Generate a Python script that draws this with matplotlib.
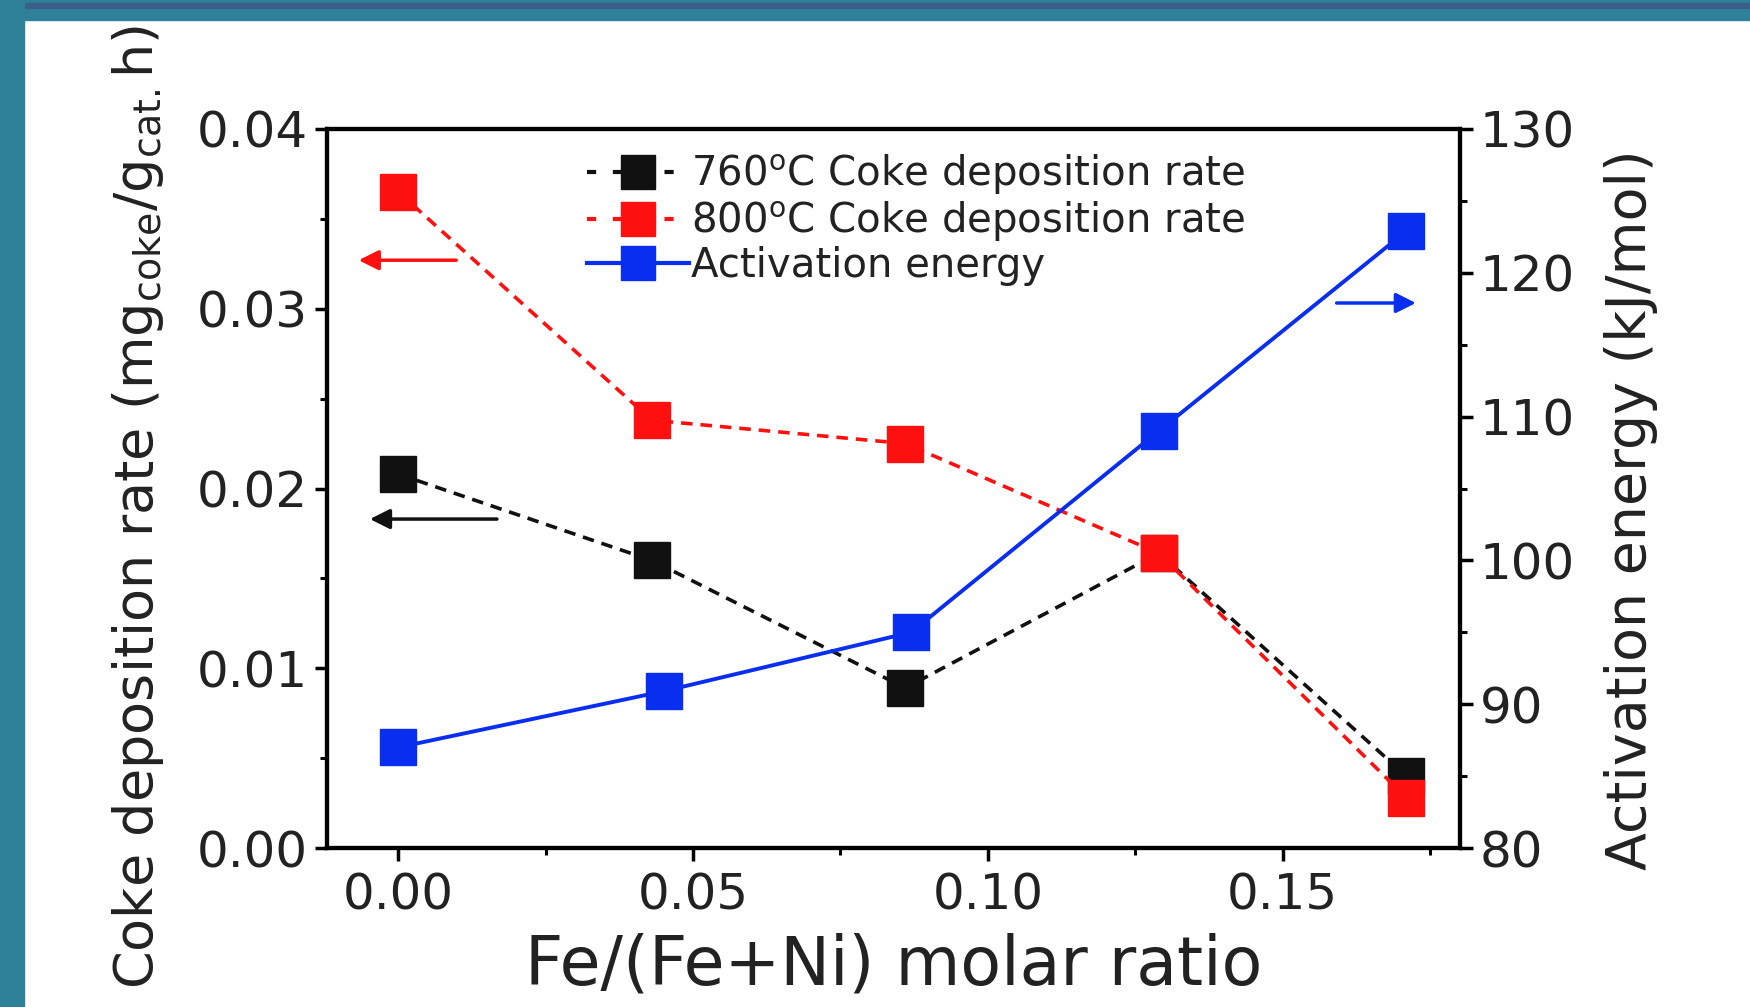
import matplotlib
matplotlib.use('Agg')
import matplotlib.pyplot as plt
import matplotlib.patches as patches
from matplotlib.lines import Line2D
from matplotlib.ticker import MultipleLocator

plt.rcParams['font.family'] = ['DejaVu Sans']
plt.rcParams['mathtext.fontset'] = 'dejavusans'

# data
ratio = [0.0, 0.043, 0.086, 0.129, 0.171]
ratio_ea = [0.0, 0.045, 0.087, 0.129, 0.171]
coke_760 = [0.0208, 0.0160, 0.0089, 0.0164, 0.0040]
coke_800 = [0.0365, 0.0238, 0.0225, 0.0164, 0.0028]
act_energy = [87.0, 90.9, 95.0, 109.0, 122.9]

x_ticks = [0.00, 0.05, 0.10, 0.15]
left_ticks = [0.00, 0.01, 0.02, 0.03, 0.04]
right_ticks = [80, 90, 100, 110, 120, 130]

labels = ['760$^{\\mathrm{o}}$C Coke deposition rate',
          '800$^{\\mathrm{o}}$C Coke deposition rate',
          'Activation energy']

black = '#111111'
red = '#ff1010'
blue = '#0a2ef0'
teal = '#2f8199'
band = '#3b5f8a'
text_c = '#222222'

fig = plt.figure(figsize=(17.5, 10.07), dpi=100)
fig.patch.set_facecolor('white')

# frame strips round the picture
fig.patches.append(patches.Rectangle((0, 1 - 20 / 1007), 1, 20 / 1007,
                                     transform=fig.transFigure, color=teal, zorder=0))
fig.patches.append(patches.Rectangle((0, 1 - 8 / 1007), 1, 5 / 1007,
                                     transform=fig.transFigure, color=band, zorder=0))
fig.patches.append(patches.Rectangle((0, 0), 24 / 1750, 1,
                                     transform=fig.transFigure, color=teal, zorder=0))

ax = fig.add_axes([327 / 1750, 1 - 848 / 1007, (1460 - 327) / 1750, (848 - 129) / 1007])
ax2 = ax.twinx()

ax.plot(ratio, coke_760, color=black, lw=2.6, dashes=(3.2, 2.2),
        marker='s', ms=26, mfc=black, mec=black)
ax.plot(ratio, coke_800, color=red, lw=2.6, dashes=(3.2, 2.2),
        marker='s', ms=26, mfc=red, mec=red)
ax2.plot(ratio_ea, act_energy, color=blue, lw=2.8,
         marker='s', ms=26, mfc=blue, mec=blue)

ax.set_xlim(-0.0121, 0.1801)
ax.set_ylim(0, 0.04)
ax2.set_ylim(80, 130)

ax.set_xticks(x_ticks)
ax.set_xticklabels(['%.2f' % v for v in x_ticks])
ax.set_yticks(left_ticks)
ax.set_yticklabels(['%.2f' % v for v in left_ticks])
ax2.set_yticks(right_ticks)
ax.xaxis.set_minor_locator(MultipleLocator(0.025))
ax.yaxis.set_minor_locator(MultipleLocator(0.005))
ax2.yaxis.set_minor_locator(MultipleLocator(5))

for a in (ax, ax2):
    for s in a.spines.values():
        s.set_linewidth(3)
    a.tick_params(which='major', direction='out', length=9, width=2.5,
                  labelsize=36, pad=5, labelcolor=text_c)
    a.tick_params(which='minor', direction='out', length=5, width=2.2)
ax.tick_params(axis='x', which='major', pad=8)
ax.tick_params(top=False, right=False, which='both')
ax2.tick_params(axis='y', which='both', left=False)

ax.set_xlabel('Fe/(Fe+Ni) molar ratio', fontsize=48, color=text_c)
ax.xaxis.set_label_coords(0.5, -0.118)
ax.set_ylabel('Coke deposition rate (mg$_{\\mathrm{coke}}$/g$_{\\mathrm{cat.}}$h)',
              fontsize=39, color=text_c)
ax.yaxis.set_label_coords(-0.142, 0.474)
ax2.set_ylabel('Activation energy (kJ/mol)', fontsize=40, color=text_c, rotation=90)
ax2.yaxis.set_label_coords(1.127, 0.47)

# arrows pointing to each axis
ax.annotate('', xy=(-0.0072, 0.0327), xytext=(0.0103, 0.0327),
            arrowprops=dict(arrowstyle='-|>', color=red, lw=2.5, mutation_scale=30))
ax.annotate('', xy=(-0.0053, 0.0183), xytext=(0.0172, 0.0183),
            arrowprops=dict(arrowstyle='-|>', color=black, lw=2.5, mutation_scale=30))
ax2.annotate('', xy=(0.1731, 117.9), xytext=(0.1587, 117.9),
             arrowprops=dict(arrowstyle='-|>', color=blue, lw=2.5, mutation_scale=30))

# legend handles: one short dash each side of the marker
h1 = Line2D([], [], color=black, lw=3, dashes=(2.2, 4.0), marker='s', ms=25, mfc=black, mec=black)
h2 = Line2D([], [], color=red, lw=3, dashes=(2.2, 4.0), marker='s', ms=25, mfc=red, mec=red)
h3 = Line2D([], [], color=blue, lw=3, marker='s', ms=25, mfc=blue, mec=blue)
leg = ax.legend(handles=[h1, h2, h3], labels=labels, loc='upper left',
                bbox_to_anchor=(0.215, 0.99), frameon=False, fontsize=29,
                handlelength=2.55, handletextpad=0.05, labelspacing=0.06, borderaxespad=0)
for t in leg.get_texts():
    t.set_color(text_c)

fig.savefig('out.png', dpi=100, facecolor='white')
